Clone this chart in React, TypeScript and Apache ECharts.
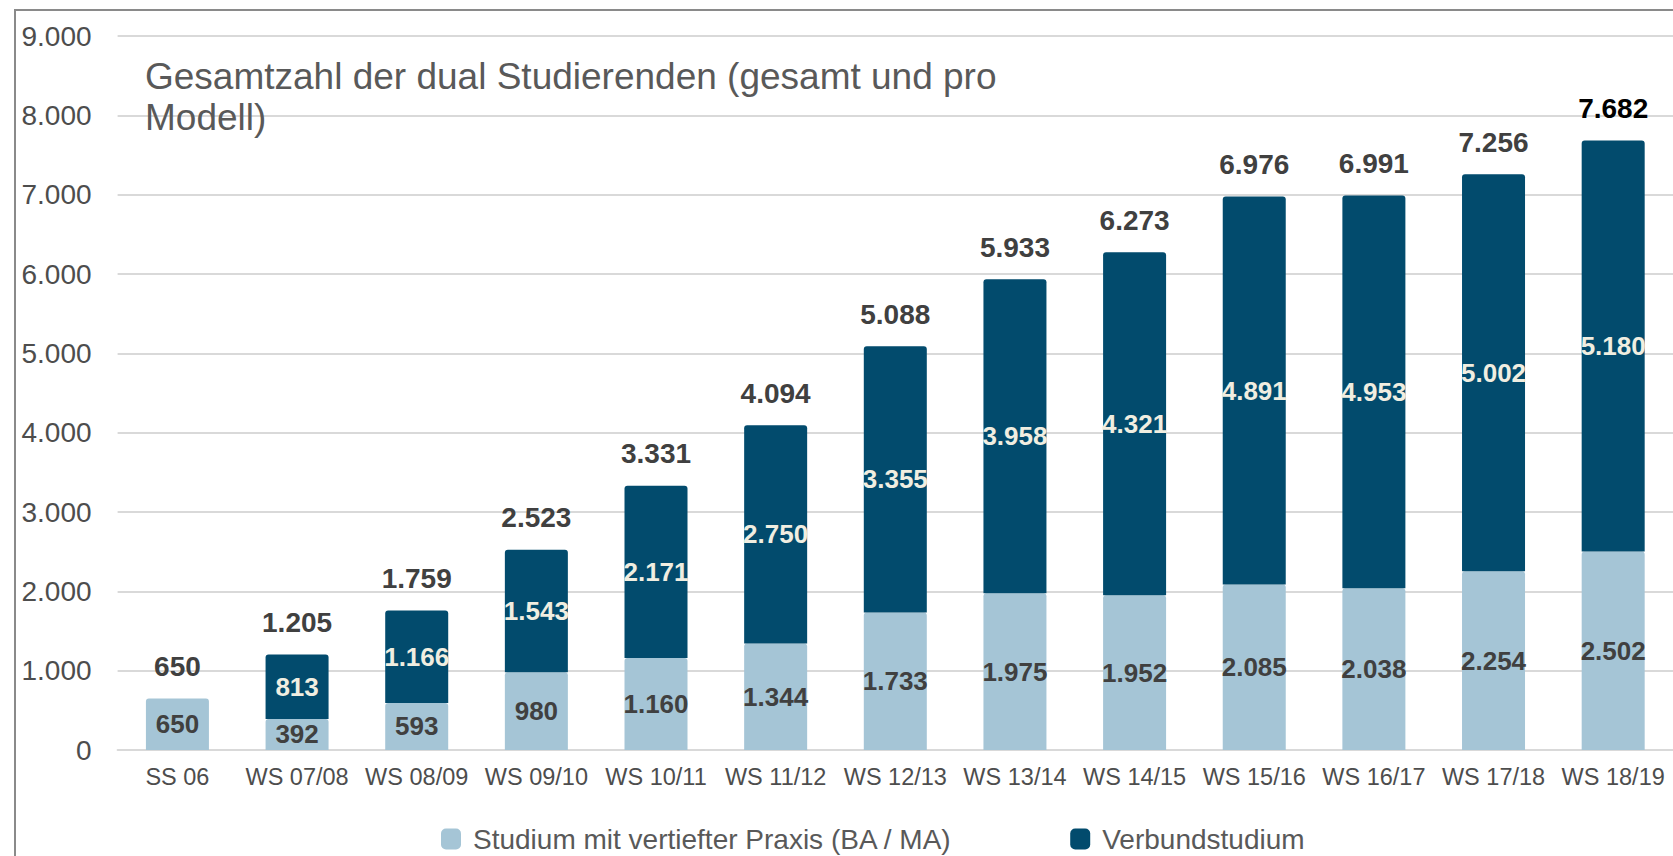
import React, { useEffect, useRef } from "react";
import * as echarts from "echarts";

const categories = [
  "SS 06", "WS 07/08", "WS 08/09", "WS 09/10", "WS 10/11", "WS 11/12", "WS 12/13",
  "WS 13/14", "WS 14/15", "WS 15/16", "WS 16/17", "WS 17/18", "WS 18/19",
];
const praxisValues = [650, 392, 593, 980, 1160, 1344, 1733, 1975, 1952, 2085, 2038, 2254, 2502];
const verbundValues = [0, 813, 1166, 1543, 2171, 2750, 3355, 3958, 4321, 4891, 4953, 5002, 5180];
const totalValues = [650, 1205, 1759, 2523, 3331, 4094, 5088, 5933, 6273, 6976, 6991, 7256, 7682];
const seriesNames = ["Studium mit vertiefter Praxis (BA / MA)", "Verbundstudium"];
const titleText = "Gesamtzahl der dual Studierenden (gesamt und pro\nModell)";

const FONT = "'Liberation Sans', Arial, sans-serif";
const LIGHT = "#A5C5D6";
const DARK = "#024B6D";

function fmt(v: number): string {
  return String(Math.round(v)).replace(/\B(?=(\d{3})+(?!\d))/g, ".");
}

export default function App() {
  const ref = useRef<HTMLDivElement>(null);
  useEffect(() => {
    if (!ref.current) return;
    const chart = echarts.init(ref.current, undefined, { renderer: "svg" });
    const lastIdx = totalValues.length - 1;
    chart.setOption({
      animation: false,
      backgroundColor: "#ffffff",
      textStyle: { fontFamily: FONT },
      title: {
        text: titleText,
        left: 145,
        top: 56,
        padding: 0,
        textStyle: {
          fontFamily: FONT,
          fontSize: 37,
          fontWeight: "normal",
          color: "#595959",
          lineHeight: 41,
        },
      },
      legend: {
        left: 436,
        top: 820,
        itemWidth: 20,
        itemHeight: 21,
        itemGap: 118,
        icon: "roundRect",
        data: seriesNames,
        textStyle: {
          fontFamily: FONT,
          fontSize: 28,
          lineHeight: 28,
          color: "#595959",
          padding: [0, 0, 0, 7],
        },
      },
      grid: { left: 117.6, right: 0, top: 36, bottom: 106, containLabel: false },
      xAxis: {
        type: "category",
        data: categories,
        axisLine: { show: true, lineStyle: { color: "#D9D9D9", width: 2 } },
        axisTick: { show: false },
        axisLabel: {
          fontFamily: FONT,
          fontSize: 23.5,
          color: "#4D4D4D",
          margin: 15,
          interval: 0,
        },
      },
      yAxis: {
        type: "value",
        min: 0,
        max: 9000,
        interval: 1000,
        axisLine: { show: false },
        axisTick: { show: false },
        splitLine: { lineStyle: { color: "#D9D9D9", width: 2 } },
        axisLabel: {
          fontFamily: FONT,
          fontSize: 28,
          color: "#4D4D4D",
          margin: 26,
          formatter: (v: number) => fmt(v),
        },
      },
      series: [
        {
          name: seriesNames[0],
          type: "bar",
          stack: "total",
          barWidth: 63,
          data: praxisValues,
          itemStyle: { color: LIGHT, borderRadius: [3, 3, 0, 0] },
          label: {
            show: true,
            position: "inside",
            fontFamily: FONT,
            fontSize: 26,
            fontWeight: "bold",
            color: "#404040",
            formatter: (p: any) => fmt(p.value),
          },
        },
        {
          name: seriesNames[1],
          type: "bar",
          stack: "total",
          barWidth: 63,
          data: verbundValues,
          itemStyle: { color: DARK, borderRadius: [3, 3, 0, 0] },
          label: {
            show: true,
            position: "inside",
            fontFamily: FONT,
            fontSize: 26,
            fontWeight: "bold",
            color: "#F0EEE1",
            formatter: (p: any) => (p.value === 0 ? "" : fmt(p.value)),
          },
        },
        {
          name: "Gesamt",
          type: "bar",
          stack: "total",
          barWidth: 63,
          data: totalValues.map(() => 0),
          itemStyle: { color: "rgba(0,0,0,0)" },
          silent: true,
          label: {
            show: true,
            position: "top",
            distance: 18,
            fontFamily: FONT,
            fontSize: 28,
            fontWeight: "bold",
            color: "#404040",
            formatter: (p: any) => fmt(totalValues[p.dataIndex]),
            rich: {},
          },
          labelLayout: {},
        },
      ],
      graphic: [
        {
          type: "rect",
          shape: { x: 15, y: 10, width: 1800, height: 1000 },
          style: { fill: "none", stroke: "#8A8A8A", lineWidth: 2 },
          silent: true,
          z: 100,
        },
      ],
    });
    // colour the last total label black
    chart.setOption({
      series: [
        {},
        {},
        {
          data: totalValues.map((_, i) =>
            i === lastIdx ? { value: 0, label: { color: "#000000" } } : 0
          ),
        },
      ],
    });
    return () => chart.dispose();
  }, []);
  return (
    <div
      ref={ref}
      style={{ position: "fixed", left: 0, top: 0, width: 1673, height: 856 }}
    />
  );
}
